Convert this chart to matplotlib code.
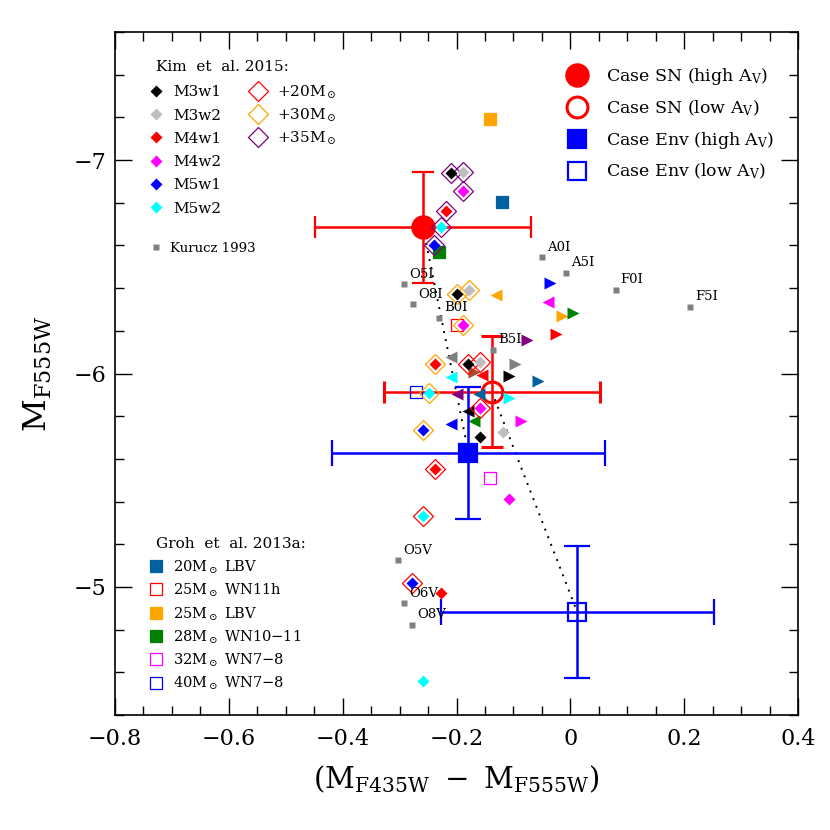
import numpy as np
import matplotlib
matplotlib.use("Agg")
import matplotlib.pyplot as plt
from matplotlib.ticker import MultipleLocator

plt.rcParams['font.family'] = ['DejaVu Serif']
plt.rcParams['mathtext.fontset'] = 'dejavuserif'

# ---------------- data ----------------
# Kim et al. 2015 models: [no companion, +20Msun, +30Msun, +35Msun]
kim_models = ['M3w1', 'M3w2', 'M4w1', 'M4w2', 'M5w1', 'M5w2']
kim_colors = ['black', '#bebebe', '#ff0000', '#ff00ff', '#0000ff', '#00ffff']
m3w1_x = [-0.158, -0.180, -0.199, -0.209]
m3w1_y = [-5.704, -6.046, -6.374, -6.940]
m3w2_x = [-0.118, -0.158, -0.178, -0.188]
m3w2_y = [-5.728, -6.056, -6.390, -6.945]
m4w1_x = [-0.228, -0.238, -0.238, -0.218]
m4w1_y = [-4.973, -5.553, -6.046, -6.761]
m4w2_x = [-0.108, -0.158, -0.189, -0.189]
m4w2_y = [-5.413, -5.837, -6.225, -6.856]
m5w1_x = [np.nan, -0.278, -0.259, -0.240]
m5w1_y = [np.nan, -5.020, -5.737, -6.601]
m5w2_x = [-0.259, -0.259, -0.248, -0.228]
m5w2_y = [-4.559, -5.333, -5.909, -6.687]
companion_labels = [r'+20M$_\odot$', r'+30M$_\odot$', r'+35M$_\odot$']
companion_colors = ['#ff0000', '#ffa500', '#800080']

# Groh et al. 2013a
groh_labels = [r'20M$_\odot$ LBV', r'25M$_\odot$ WN11h', r'25M$_\odot$ LBV',
               r'28M$_\odot$ WN10$-$11', r'32M$_\odot$ WN7$-$8', r'40M$_\odot$ WN7$-$8']
groh_x = [-0.120, -0.200, -0.141, -0.231, -0.142, -0.272]
groh_y = [-6.804, -6.225, -7.192, -6.569, -5.510, -5.915]
groh_colors = ['#0060a0', '#ff0000', '#ffa500', '#008000', '#ff00ff', '#0000ff']
groh_filled = [True, False, True, True, False, False]

# Kurucz 1993
kurucz_labels = ['O5I', 'O8I', 'B0I', 'B5I', 'A0I', 'A5I', 'F0I', 'F5I', 'O5V', 'O6V', 'O8V']
kurucz_x = [-0.292, -0.276, -0.230, -0.135, -0.050, -0.007, 0.080, 0.211, -0.302, -0.292, -0.278]
kurucz_y = [-6.418, -6.325, -6.262, -6.111, -6.545, -6.471, -6.393, -6.313, -5.125, -4.923, -4.822]

# other model points (triangles)
tri_left_x = [-0.210, -0.210, -0.156, -0.200, -0.161, -0.180, -0.170, -0.209, -0.130, -0.040]
tri_left_y = [-6.077, -5.983, -5.991, -5.905, -5.905, -5.826, -5.776, -5.764, -6.366, -6.335]
tri_left_c = ['#808080', '#00ffff', '#ff0000', '#800080', '#0060a0', 'black', '#008000',
              '#0000ff', '#ffa500', '#ff00ff']
tri_right_x = [-0.170, -0.097, -0.107, -0.056, -0.107, -0.087, -0.035, -0.015, 0.005, -0.026, -0.076]
tri_right_y = [-6.006, -6.046, -5.986, -5.967, -5.884, -5.776, -6.426, -6.268, -6.285, -6.185, -6.155]
tri_right_c = ['#a0522d', '#808080', 'black', '#0060a0', '#00ffff', '#ff00ff', '#0000ff',
               '#ffa500', '#008000', '#ff0000', '#800080']

# observed cases
case_labels = [r'Case SN (high A$_{\rm V}$)', r'Case SN (low A$_{\rm V}$)',
               r'Case Env (high A$_{\rm V}$)', r'Case Env (low A$_{\rm V}$)']
case_x = [-0.259, -0.138, -0.179, 0.012]
case_y = [-6.686, -5.915, -5.629, -4.883]
case_xerr = [0.19, 0.19, 0.24, 0.24]
case_yerr = [0.26, 0.26, 0.31, 0.31]

# ---------------- figure ----------------
W, H = 830, 830
fig = plt.figure(figsize=(W / 100, H / 100), dpi=100)
L, R, T, B = 115, 798, 32, 715
ax = fig.add_axes([L / W, 1 - B / H, (R - L) / W, (B - T) / H])
ax.set_xlim(-0.8, 0.4)
ax.set_ylim(-4.4, -7.6)


def axp(px, py):
    return (px - L) / (R - L), (B - py) / (B - T)


# dotted connecting lines
for i0, i1 in [(0, 2), (1, 3)]:
    ax.plot([case_x[i0], case_x[i1]], [case_y[i0], case_y[i1]], color='black',
            ls=(0, (1, 3.2)), lw=1.4, zorder=1)

# case markers with error bars
case_col = ['#ff0000', '#ff0000', '#0000ff', '#0000ff']
case_mk = ['o', 'o', 's', 's']
case_ms = [16, 15, 13, 12.3]
case_fill = [True, False, True, False]
case_cap = [7.9, 7.9, 9.3, 9.3]
for i in range(4):
    ax.errorbar(case_x[i], case_y[i], xerr=case_xerr[i], yerr=case_yerr[i],
                color=case_col[i], lw=1.8, capsize=case_cap[i], capthick=2.0,
                marker=case_mk[i], ms=case_ms[i],
                mfc=case_col[i] if case_fill[i] else 'none',
                mec=case_col[i], mew=2.2 if i == 1 else 1.6, zorder=2)

# Kurucz squares
ax.plot(kurucz_x, kurucz_y, ls='none', marker='s', ms=5, color='#808080', mec='none', zorder=3)
for lab, x, y in zip(kurucz_labels, kurucz_x, kurucz_y):
    ax.annotate(lab, (x, y), xytext=(3.5, 2.5), textcoords='offset points',
                fontsize=9.5, ha='left', va='bottom', zorder=8)

# Groh squares
for x, y, c, f in zip(groh_x, groh_y, groh_colors, groh_filled):
    ax.plot(x, y, ls='none', marker='s', ms=8, mfc=c if f else 'none', mec=c,
            mew=0.9, zorder=4)

# triangles
for x, y, c in zip(tri_left_x, tri_left_y, tri_left_c):
    ax.plot(x, y, ls='none', marker='<', ms=8, color=c, mec='none', zorder=5)
for x, y, c in zip(tri_right_x, tri_right_y, tri_right_c):
    ax.plot(x, y, ls='none', marker='>', ms=8, color=c, mec='none', zorder=5)

# Kim diamonds
kim_xs = [m3w1_x, m3w2_x, m4w1_x, m4w2_x, m5w1_x, m5w2_x]
kim_ys = [m3w1_y, m3w2_y, m4w1_y, m4w2_y, m5w1_y, m5w2_y]
for xs, ys, c in zip(kim_xs, kim_ys, kim_colors):
    for k in range(1, 4):
        ax.plot(xs[k], ys[k], ls='none', marker='D', ms=9.8, mfc='none',
                mec=companion_colors[k - 1], mew=0.9, zorder=6)
    ax.plot(xs, ys, ls='none', marker='D', ms=6, color=c, mec='none', zorder=7)

# ---------------- legends (manual) ----------------
fs_leg = 11
tr = ax.transAxes
# Kim et al.
ax.text(*axp(155.7, 66.7), 'Kim  et  al. 2015:', transform=tr, fontsize=fs_leg,
        ha='left', va='center')
for i, (lab, c) in enumerate(zip(kim_models, kim_colors)):
    yy = 90.7 + 23.3 * i
    ax.plot(*axp(155.7, yy), transform=tr, marker='D', ms=6.5, color=c, mec='none',
            ls='none', clip_on=False)
    ax.text(*axp(173.3, yy + 5.5), lab, transform=tr, fontsize=fs_leg, ha='left',
            va='baseline')
for i, (lab, c) in enumerate(zip(companion_labels, companion_colors)):
    yy = 90.7 + 23.3 * i
    ax.plot(*axp(257.7, yy), transform=tr, marker='D', ms=10, mfc='none', mec=c,
            mew=0.9, ls='none')
    ax.text(*axp(276.7, yy + 5.5), lab, transform=tr, fontsize=fs_leg, ha='left',
            va='baseline')
ax.plot(*axp(155.7, 247), transform=tr, marker='s', ms=5, color='#808080', mec='none', ls='none')
ax.text(*axp(170, 247 + 4.5), 'Kurucz 1993', transform=tr, fontsize=9.5, ha='left', va='baseline')

# Case legend
for i, lab in enumerate(case_labels):
    yy = 75 + 31.9 * i
    ax.plot(*axp(577.3, yy), transform=tr, marker=case_mk[i],
            ms=[16, 15, 13, 12.3][i], mfc=case_col[i] if case_fill[i] else 'none',
            mec=case_col[i], mew=2.2 if i == 1 else 1.6, ls='none')
    ax.text(*axp(606, yy + 6), lab, transform=tr, fontsize=12.5, ha='left',
            va='baseline')

# Groh legend
ax.text(*axp(155.7, 544), 'Groh  et  al. 2013a:', transform=tr, fontsize=fs_leg,
        ha='left', va='center')
for i, (lab, c, f) in enumerate(zip(groh_labels, groh_colors, groh_filled)):
    yy = 566 + 23.3 * i
    ax.plot(*axp(155.7, yy), transform=tr, marker='s', ms=8, mfc=c if f else 'none',
            mec=c, mew=0.9, ls='none')
    ax.text(*axp(173.3, yy + 5.5), lab, transform=tr, fontsize=10.5, ha='left',
            va='baseline')

# ---------------- axes styling ----------------
ax.xaxis.set_major_locator(MultipleLocator(0.2))
ax.xaxis.set_minor_locator(MultipleLocator(0.05))
ax.yaxis.set_major_locator(MultipleLocator(1.0))
ax.yaxis.set_minor_locator(MultipleLocator(0.2))
ax.tick_params(which='both', direction='in', top=True, right=True, width=1.0,
               labelsize=16)
ax.tick_params(which='major', length=12.5, pad=9)
ax.tick_params(which='minor', length=6.5)
ax.tick_params(axis='y', which='major', pad=6)
ax.xaxis.set_major_formatter(plt.FuncFormatter(
    lambda v, p: '0' if abs(v) < 1e-9 else ('%.1f' % v).replace('-', '\u2212')))
ax.yaxis.set_major_formatter(plt.FuncFormatter(
    lambda v, p: ('%d' % round(v)).replace('-', '\u2212')))
for s in ax.spines.values():
    s.set_linewidth(1.2)

ax.set_xlabel(r'$(\mathrm{M}_{\mathrm{F435W}}\ -\ \mathrm{M}_{\mathrm{F555W}})$',
              fontsize=21, labelpad=10)
ax.set_ylabel(r'$\mathrm{M}_{\mathrm{F555W}}$', fontsize=23, labelpad=14)

fig.savefig('out.png', dpi=100)
